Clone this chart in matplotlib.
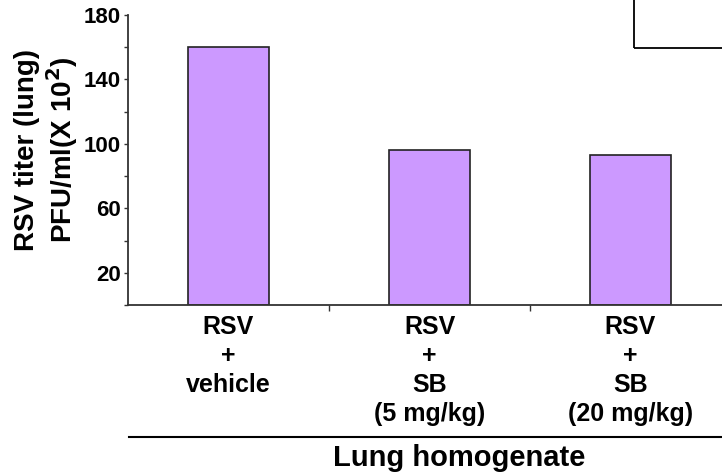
import matplotlib
matplotlib.use("Agg")
import matplotlib.pyplot as plt
from matplotlib.patches import Rectangle
from matplotlib.lines import Line2D
import numpy as np

# data
groups = ["RSV\n+\nvehicle", "RSV\n+\nSB\n(5 mg/kg)", "RSV\n+\nSB\n(20 mg/kg)"]
titer = [160, 96, 93]
ytick_vals = [0, 20, 40, 60, 80, 100, 120, 140, 160, 180]
ytick_labels = ["", "20", "", "60", "", "100", "", "140", "", "180"]

plt.rcParams['font.family'] = ['Liberation Sans', 'DejaVu Sans']
plt.rcParams['font.weight'] = 'bold'

W, H = 722, 473
fig = plt.figure(figsize=(W/100, H/100), dpi=100)
ax = fig.add_axes([128/W, (H-305)/H, 603/W, 290/H])

x = np.arange(len(groups))
ax.bar(x, titer, width=0.4, color='#CC99FF', edgecolor='#222222', linewidth=1.2, zorder=2)

ax.set_xlim(-0.5, 2.5)
ax.set_ylim(0, 180)

ax.spines['top'].set_visible(False)
ax.spines['right'].set_visible(False)
for s in ['left', 'bottom']:
	ax.spines[s].set_linewidth(1.3)
	ax.spines[s].set_color('#333333')

ax.set_yticks(ytick_vals)
ax.set_yticklabels(ytick_labels, fontsize=16, fontweight='bold')
ax.tick_params(axis='y', direction='out', length=3, width=1, color='#333333', pad=2)

ax.set_xticks(x)
ax.set_xticklabels(groups, fontsize=18, fontweight='bold', linespacing=1.26)
ax.tick_params(axis='x', which='major', length=0, pad=7)
ax.set_xticks([0.5, 1.5], minor=True)
ax.tick_params(axis='x', which='minor', direction='out', length=4, width=1, color='#333333')

# y label, two lines
fig.text(47/W, (H-150)/H, "RSV titer (lung)\nPFU/ml(X 10$^{\\mathbf{2}}$)", rotation=90,
		ha='center', va='center', fontsize=20, fontweight='bold', linespacing=1.15,
		multialignment='center')

# group line and caption
fig.add_artist(Line2D([129/W, 1.0], [(H-437)/H, (H-437)/H], color='black', lw=1.5))
fig.text(459/W, (H-458)/H, "Lung homogenate", ha='center', va='center',
		fontsize=21, fontweight='bold')

# cropped legend frame in the corner
fig.add_artist(Rectangle((634/W, (H-48)/H), 0.5, 0.5, transform=fig.transFigure,
		fill=False, edgecolor='black', lw=1.3))

fig.savefig("out.png", dpi=100)
